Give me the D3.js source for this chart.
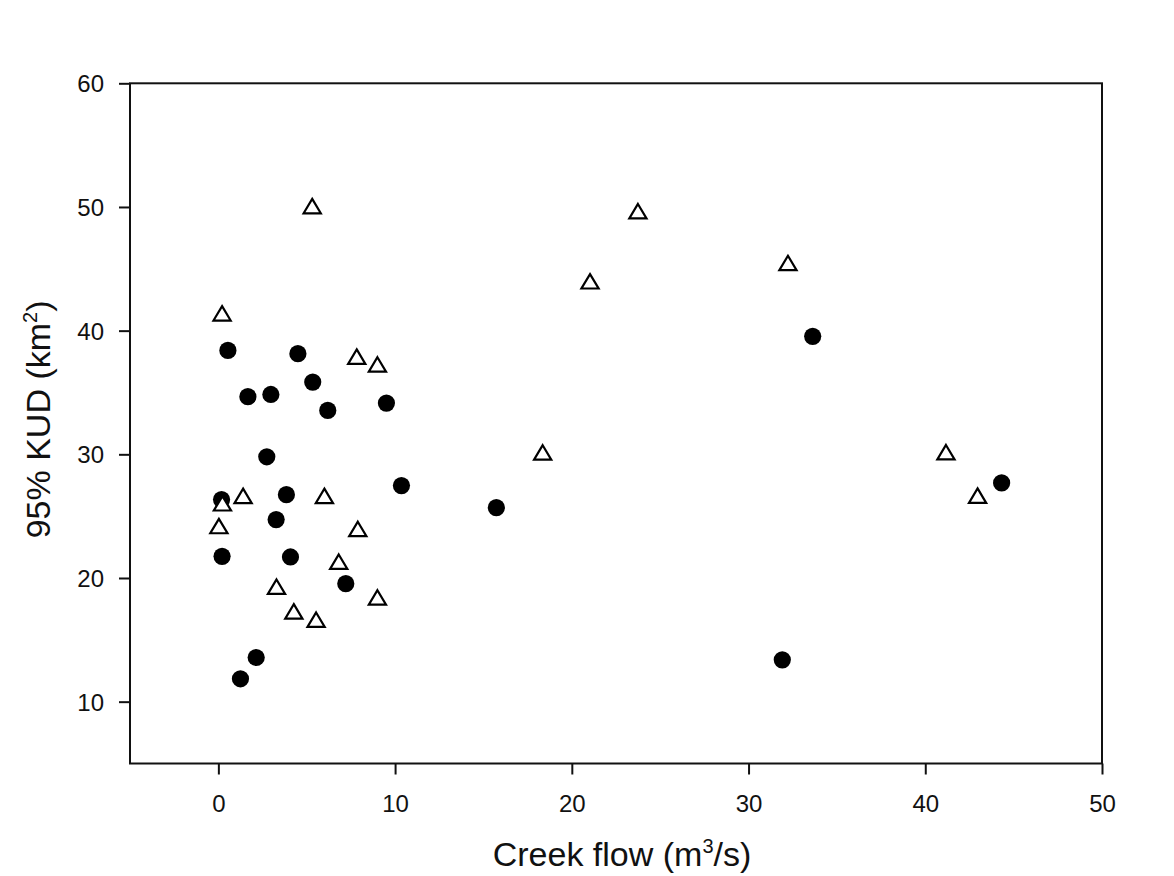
<!DOCTYPE html>
<html>
<head>
<meta charset="utf-8">
<script src="https://cdn.jsdelivr.net/npm/d3@7/dist/d3.min.js"></script>
<style>
  html, body { margin: 0; padding: 0; background: #ffffff; }
  svg { display: block; }
  text { font-family: "Liberation Sans", Arial, sans-serif; fill: #111; }
</style>
</head>
<body>
<svg id="chart" width="1174" height="876"></svg>
<script>
// Filled circles: creek flow (m3/s), 95% KUD (km2)
const circleFlow = [0.54, 4.5, 5.34, 1.67, 2.97, 6.19, 9.51, 2.74, 10.36, 0.18, 3.85, 3.27, 0.21, 4.08, 7.21, 2.14, 1.25, 15.73, 33.63, 44.32, 31.91];
const circleKUD  = [38.4, 38.14, 35.84, 34.66, 34.84, 33.55, 34.14, 29.8, 27.47, 26.34, 26.74, 24.72, 21.75, 21.7, 19.54, 13.57, 11.85, 25.69, 39.54, 27.69, 13.38];

// Open triangles
const triFlow = [0.21, 7.83, 9.0, 0.23, 1.40, 6.0, 0.03, 7.89, 6.81, 3.29, 9.0, 4.27, 5.53, 23.74, 32.23, 21.03, 18.35, 5.31, 41.17, 42.96];
const triKUD  = [41.4, 37.9, 37.27, 26.04, 26.64, 26.64, 24.2, 23.97, 21.32, 19.30, 18.43, 17.3, 16.63, 49.66, 45.47, 43.99, 30.15, 50.07, 30.17, 26.66];

const xTicks = [0, 10, 20, 30, 40, 50];
const yTicks = [10, 20, 30, 40, 50, 60];

(function () {
const svg = d3.select("#chart");
const mLeft = 130, mRight = 1102, mTop = 83.3, mBottom = 763.5;

const x = d3.scaleLinear().domain([-5, 50]).range([mLeft, mRight]);
const y = d3.scaleLinear().domain([5, 60]).range([mBottom, mTop]);

const circles = circleFlow.map((v, i) => ({x: v, y: circleKUD[i]}));
const tris = triFlow.map((v, i) => ({x: v, y: triKUD[i]}));

// Frame
svg.append("rect")
  .attr("x", mLeft).attr("y", mTop)
  .attr("width", mRight - mLeft).attr("height", mBottom - mTop)
  .attr("fill", "none").attr("stroke", "#111").attr("stroke-width", 2);

// Axes
const xAxis = d3.axisBottom(x).tickValues(xTicks).tickSize(11).tickPadding(20).tickFormat(d3.format("d"));
const yAxis = d3.axisLeft(y).tickValues(yTicks).tickSize(11).tickPadding(15).tickFormat(d3.format("d"));

const gx = svg.append("g").attr("transform", `translate(0,${mBottom})`).call(xAxis);
const gy = svg.append("g").attr("transform", `translate(${mLeft},0)`).call(yAxis);
[gx, gy].forEach(g => {
  g.attr("font-size", null).attr("font-family", null);
  g.select(".domain").remove();
  g.selectAll(".tick line").attr("stroke", "#111").attr("stroke-width", 2);
  g.selectAll(".tick text").attr("fill", "#111")
    .style("font-size", "24px")
    .style("font-family", '"Liberation Sans", Arial, sans-serif');
});
gx.selectAll(".tick text").attr("dy", "0.71em");
gy.selectAll(".tick text").attr("dy", "0.36em");

// Circles
svg.append("g").selectAll("circle").data(circles).join("circle")
  .attr("cx", d => x(d.x)).attr("cy", d => y(d.y)).attr("r", 8.6)
  .attr("fill", "#000");

// Triangles (centered on bounding box)
const hw = 8.6, hh = 7.2;
svg.append("g").selectAll("path").data(tris).join("path")
  .attr("d", d => {
    const cx = x(d.x), cy = y(d.y);
    return `M${cx},${cy - hh}L${cx + hw},${cy + hh}L${cx - hw},${cy + hh}Z`;
  })
  .attr("fill", "#fff").attr("stroke", "#000").attr("stroke-width", 2.2)
  .attr("stroke-linejoin", "miter");

// Axis titles
const xt = svg.append("text").attr("x", 622).attr("y", 866)
  .attr("text-anchor", "middle").style("font-size", "34px");
xt.append("tspan").text("Creek flow (m");
xt.append("tspan").text("3").style("font-size", "20px").attr("dy", -13);
xt.append("tspan").text("/s)").attr("dy", 13);

const yt = svg.append("text")
  .attr("transform", `translate(50,${(mTop + mBottom) / 2 - 4}) rotate(-90)`)
  .attr("text-anchor", "middle").style("font-size", "34px");
yt.append("tspan").text("95% KUD (km");
yt.append("tspan").text("2").style("font-size", "20px").attr("dy", -13);
yt.append("tspan").text(")").attr("dy", 13);
})();
</script>
</body>
</html>
